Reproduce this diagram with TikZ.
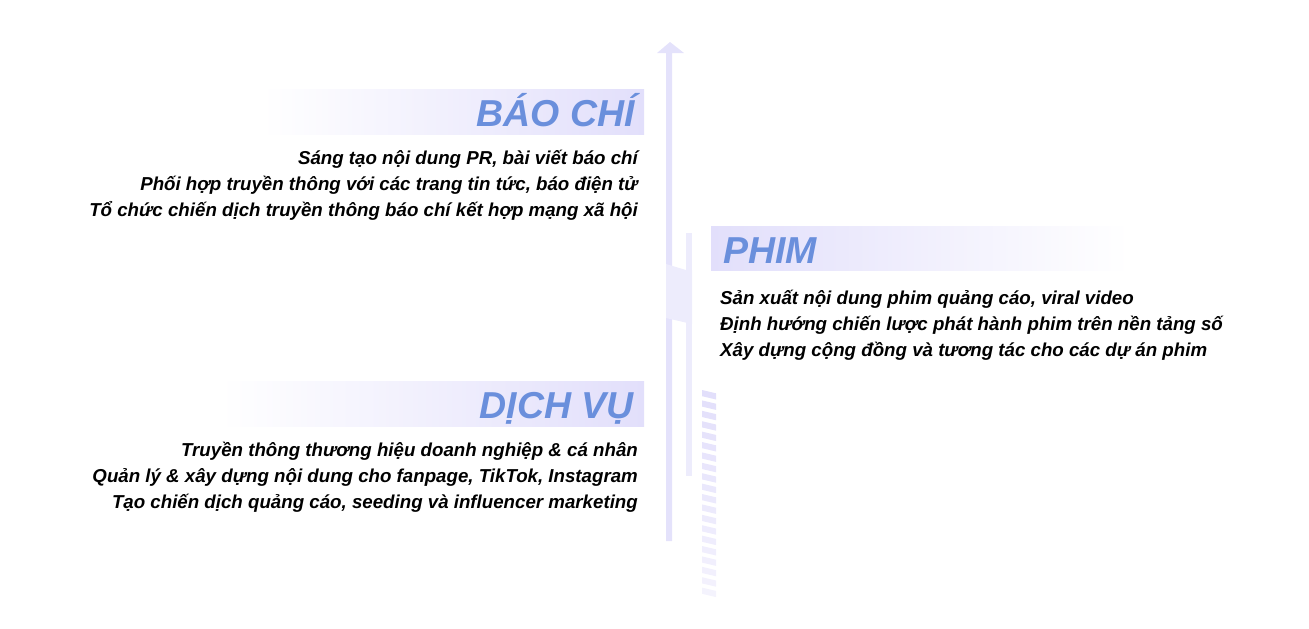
\documentclass[tikz,border=0pt]{standalone}
\usepackage{fontspec}
\setmainfont{Liberation Sans}
\definecolor{lav}{RGB}{226,223,251}
\definecolor{lavline}{RGB}{228,226,251}
\definecolor{lavlight}{RGB}{237,236,252}
\definecolor{titleblue}{RGB}{106,143,220}
\tikzset{
  titletext/.style={font=\fontsize{37.5}{40}\selectfont\bfseries\itshape, text=titleblue, inner sep=0pt},
  bodyright/.style={font=\fontsize{18.7}{26}\selectfont\bfseries\itshape, text=black, inner sep=0pt, anchor=base east},
  bodyleft/.style={font=\fontsize{18.7}{26}\selectfont\bfseries\itshape, text=black, inner sep=0pt, anchor=base west},
}
\begin{document}
\begin{tikzpicture}[x=1pt,y=-1pt]
\useasboundingbox (0,0) rectangle (1309,629);
% bands
\shade[left color=white, right color=lav] (262,89) rectangle (644,134);
\shade[left color=lav, right color=white] (711,226) rectangle (1130,270);
\shade[left color=white, right color=lav] (220,381) rectangle (644,426);
% main axis
\fill[lavline] (666,541) -- (666,53) -- (657,53) -- (670,42) -- (684,53) -- (672,53) -- (672,541) -- cycle;
\fill[lavlight] (686,233) rectangle (692,476);
\fill[lavlight] (666,264) -- (686,270) -- (692,270) -- (692,324) -- (666,318) -- cycle;
% hatch
\foreach \i in {0,...,19}{
  \pgfmathsetmacro{\yy}{390+\i*10.4}
  \pgfmathsetmacro{\pp}{100-\i*3.2}
  \fill[lav!\pp!white] (702,\yy) -- (716,\yy+3.3) -- (716,\yy+9.5) -- (702,\yy+6.2) -- cycle;
}
% titles
\node[titletext, anchor=base east] (tbao) at (635,126) {BÁO CHÍ};
\node[titletext, anchor=base west] (tphim) at (723,263) {PHIM};
\node[titletext, anchor=base east] (tdv) at (634,418) {DỊCH VỤ};
% bodies
\node[bodyright] (bbao1) at (638,164.5) {Sáng tạo nội dung PR, bài viết báo chí};
\node[bodyright] (bbao2) at (638,190.5) {Phối hợp truyền thông với các trang tin tức, báo điện tử};
\node[bodyright] (bbao3) at (638,216.5) {Tổ chức chiến dịch truyền thông báo chí kết hợp mạng xã hội};
\node[bodyleft] (bphim1) at (720,304.5) {Sản xuất nội dung phim quảng cáo, viral video};
\node[bodyleft] (bphim2) at (720,330.5) {Định hướng chiến lược phát hành phim trên nền tảng số};
\node[bodyleft] (bphim3) at (720,356.5) {Xây dựng cộng đồng và tương tác cho các dự án phim};
\node[bodyright] (bdv1) at (638,456.5) {Truyền thông thương hiệu doanh nghiệp \& cá nhân};
\node[bodyright] (bdv2) at (638,482.5) {Quản lý \& xây dựng nội dung cho fanpage, TikTok, Instagram};
\node[bodyright] (bdv3) at (638,508.5) {Tạo chiến dịch quảng cáo, seeding và influencer marketing};
\end{tikzpicture}
\end{document}
